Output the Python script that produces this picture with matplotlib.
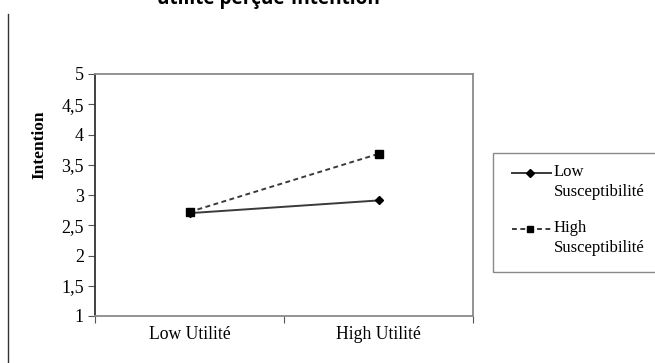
import matplotlib
matplotlib.use('Agg')
import matplotlib.pyplot as plt
from matplotlib.lines import Line2D
from matplotlib.patches import Rectangle

# data
categories = ['Low Utilité', 'High Utilité']
low_susc = [2.70, 2.91]
high_susc = [2.72, 3.68]
series_labels = ['Low\nSusceptibilité', 'High\nSusceptibilité']
yticks = [1, 1.5, 2, 2.5, 3, 3.5, 4, 4.5, 5]
ytick_labels = ['1', '1,5', '2', '2,5', '3', '3,5', '4', '4,5', '5']

W, H = 655, 363
fig = plt.figure(figsize=(W / 100, H / 100), dpi=100)
serif = 'Liberation Serif'
line_col = '#3a3a3a'

def fx(px):
    return px / W

def fy(py):
    return 1 - py / H

# plot area in pixels: left 95, right 473, top 74, bottom 316
ax = fig.add_axes([fx(95), fy(316), (473 - 95) / W, (316 - 74) / H])

xpos = [0.5, 1.5]
styles = [
    dict(ls='-', marker='D', ms=4.5),
    dict(ls=(0, (2.5, 1.8)), marker='s', ms=5.5),
]
for vals, st in zip([low_susc, high_susc], styles):
    ax.plot(xpos, vals, color=line_col, lw=1.4, mfc='black', mec='black', **st)

ax.set_xlim(0, 2)
ax.set_ylim(1, 5)
ax.set_yticks(yticks)
ax.set_yticklabels(ytick_labels, fontfamily=serif, fontsize=13)
ax.set_xticks([0, 1, 2])
ax.set_xticklabels([])
ax.set_xticks(xpos, minor=True)
ax.set_xticklabels(categories, minor=True, fontfamily=serif, fontsize=12.7)
ax.tick_params(axis='x', which='minor', length=0, pad=7)
ax.tick_params(axis='x', which='major', length=5, color='#555555', direction='out')
ax.tick_params(axis='y', length=5, color='#555555', direction='out', pad=3)

for side in ['top', 'right', 'bottom']:
    ax.spines[side].set_color('#8a8a8a')
    ax.spines[side].set_linewidth(1.3)
ax.spines['left'].set_color('#333333')
ax.spines['left'].set_linewidth(1.3)

fig.text(fx(39), fy(145), 'Intention', rotation=90, ha='center', va='center',
         fontfamily=serif, fontweight='bold', fontsize=12.5)

# legend box, cut by the right edge
fig.add_artist(Rectangle((fx(493), fy(272)), fx(680) - fx(493), (272 - 153) / H,
                         transform=fig.transFigure, fill=False,
                         edgecolor='#8a8a8a', lw=1.0))
for (hy, st, lab) in zip([173, 229], styles, series_labels):
    fig.add_artist(Line2D([fx(512), fx(551)], [fy(hy), fy(hy)], color=line_col,
                          lw=1.4, ls=st['ls']))
    fig.add_artist(Line2D([fx(530)], [fy(hy)], marker=st['marker'],
                          ms=st['ms'] - 0.5, color='black', ls='none'))
    fig.text(fx(554), fy(hy - 9), lab, ha='left', va='top', fontfamily=serif,
             fontsize=12, linespacing=1.3)

# outer frame line on the left
fig.add_artist(Line2D([fx(8), fx(8)], [0, fy(14)], color='#333333', lw=1.0))

# title, mostly above the visible area
fig.text(fx(268), fy(4), 'utilité perçue-Intention', ha='center', va='baseline',
         fontfamily='Open Sans', fontweight='bold', fontsize=13.7)

fig.savefig('out.png', dpi=100)
